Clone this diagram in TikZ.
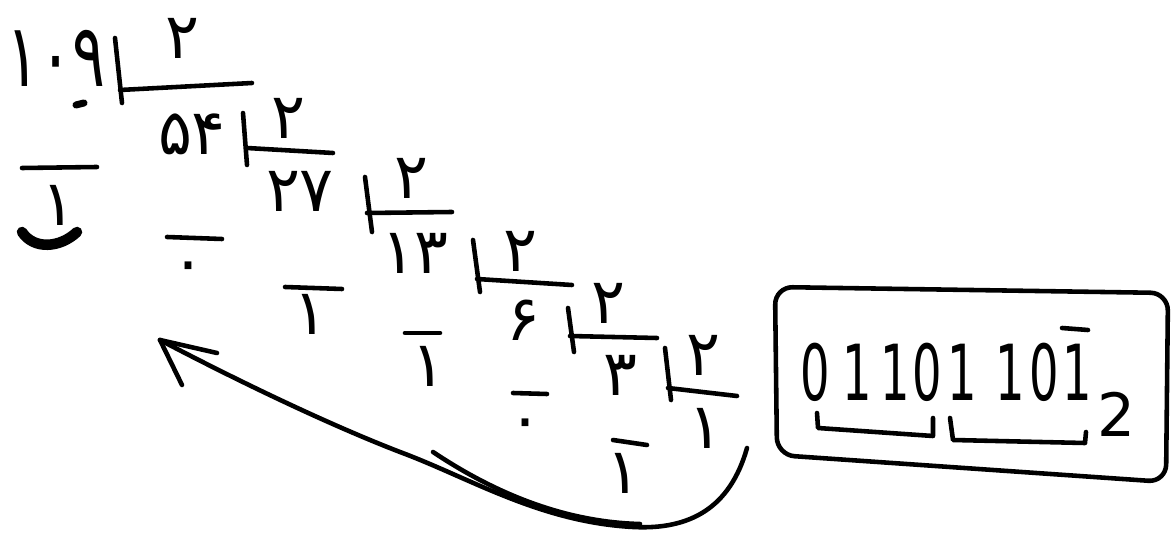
\documentclass[tikz,border=0pt]{standalone}
\usepackage{fontspec}
\setmainfont{DejaVu Sans}
\newfontfamily\fanum[Script=Arabic]{DejaVu Sans}
\newcommand\narrowtext[2]{\scalebox{#1}[1]{#2}}
\begin{document}
\begin{tikzpicture}[x=0.02cm,y=-0.02cm,line width=2.6pt,line cap=round,line join=round,
  num/.style={inner sep=0pt,font=\fanum\fontsize{36}{38}\selectfont},
  bignum/.style={inner sep=0pt,font=\fanum\fontsize{50}{52}\selectfont},
  bit/.style={inner sep=0pt,font=\fontsize{44}{46}\selectfont}]
\useasboundingbox (0,0) rectangle (1172,540);
\node[bignum] (n109) at (56,58) {\narrowtext{0.7}{۱۰۹}};
\node[num] (d1) at (182,38) {۲};
\draw (115,38)--(122,103);
\draw (120,90)--(252,83);
\draw[line width=4pt] (76,105)--(84,103);
\node[num] (n54) at (192,134) {۵۴};
\node[num] (d2) at (288,118) {۲};
\draw (243,113)--(247,165);
\draw (247,148)--(333,153);
\draw (22,168)--(97,167);
\node[num] (r1) at (58,205) {۱};
\draw[line width=6pt] (22,232) .. controls (34,250) and (60,248) .. (77,232);
\node[num] (n27) at (300,191) {۲۷};
\node[num] (d3) at (411,178) {۲};
\draw (365,177)--(372,232);
\draw (367,213)--(452,212);
\draw (167,237)--(222,239);
\node[num] (r2) at (188,273) {۰};
\node[num] (n13) at (415,253) {۱۳};
\node[num] (d4) at (520,251) {۲};
\draw (473,240)--(480,292);
\draw (477,279)--(572,285);
\draw (285,287)--(342,289);
\node[num] (r3) at (310,314) {۱};
\node[num] (n6) at (523,320) {۶};
\node[num] (d5) at (608,303) {۲};
\draw (568,308)--(574,352);
\draw (570,336)--(657,338);
\draw (405,333)--(440,333);
\node[num] (r4) at (428,366) {۱};
\node[num] (n3) at (620,375) {۳};
\node[num] (d6) at (703,355) {۲};
\draw (665,348)--(671,400);
\draw (668,388)--(737,396);
\draw (513,393)--(547,394);
\node[num] (r5) at (525,430) {۰};
\node[num] (q6) at (705,428) {۱};
\draw (613,440)--(647,445);
\node[num] (r6) at (623,473) {۱};
\coordinate (start) at (747,448);
\coordinate (tip) at (160,340);
\draw (start) .. controls (730,508) and (690,530) .. (633,527)
  .. controls (540,522) and (470,478) .. (400,452)
  .. controls (330,425) and (240,382) .. (tip);
\draw (433,452) .. controls (490,490) and (560,522) .. (640,524);
\draw (tip) -- ++(57,13);
\draw (tip) -- ++(22,45);
\draw[rounded corners=10] (775,287) -- (1168,293) -- (1166,482) -- (777,455) -- cycle;
\foreach \b/\x [count=\i] in {0/815,1/857,1/895,0/927,1/962,1/1010,0/1044,1/1077}
  \node[bit] (b\i) at (\x,372) {\narrowtext{0.6}{\b}};
\draw (1062,328)--(1088,330);
\node[bit,font=\fontsize{34}{36}\selectfont] (base) at (1116,414) {2};
\draw (817,413)--(818,428)--(933,436)--(933,418);
\draw (950,418)--(953,440)--(1085,443)--(1086,432);
\end{tikzpicture}
\end{document}
